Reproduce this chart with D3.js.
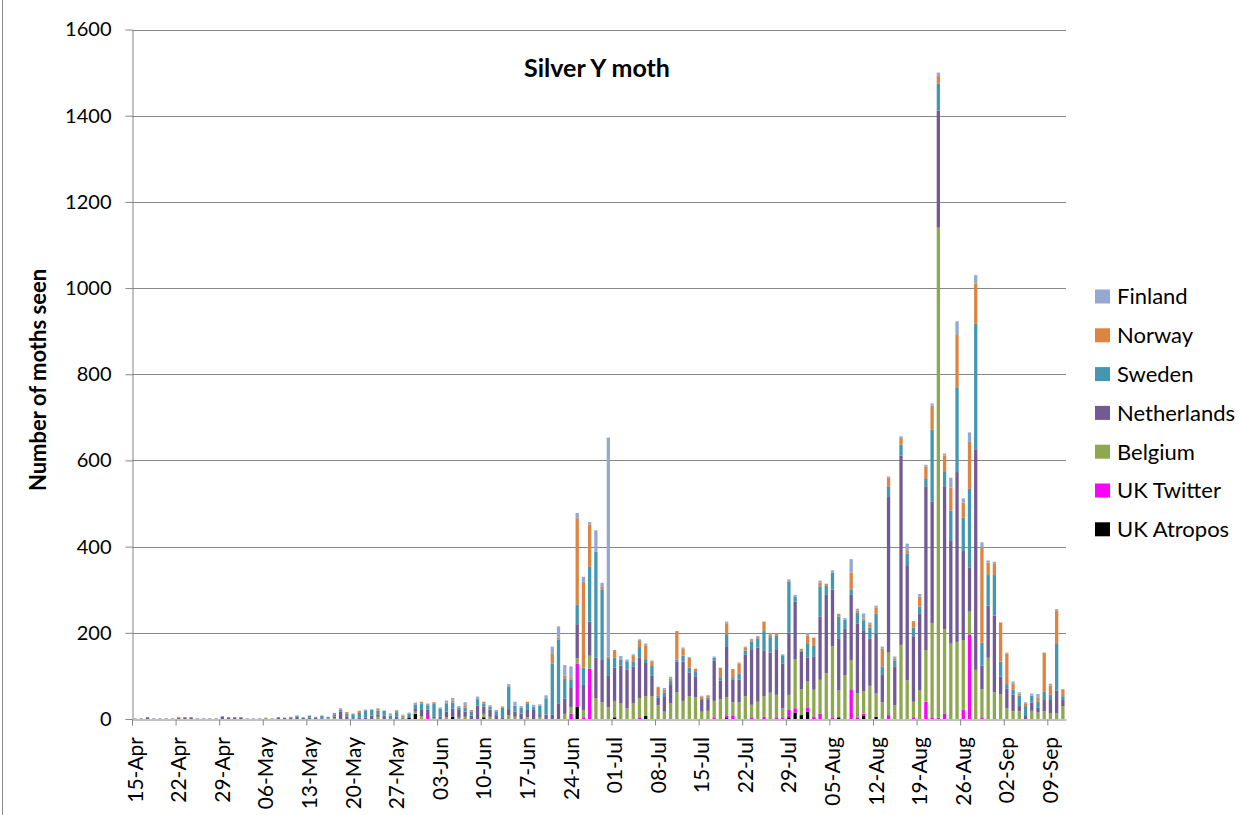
<!DOCTYPE html>
<html>
<head>
    <meta charset="utf-8">
    <title>Silver Y moth</title>
    <script src="https://d3js.org/d3.v7.min.js"></script>
    <style>
        body {
            margin: 0;
            background: #fff;
            font-family: Lato, "Liberation Sans", sans-serif;
        }
        .grid line { stroke: #868686; stroke-width: 1px; }
        .axis path, .axis line { stroke: #868686; }
        .axis text { fill: #000; font-family: Lato, "Liberation Sans", sans-serif; }
    </style>
</head>
<body>
    <svg width="1239" height="815"></svg>

    <script>
    // series, bottom of the stack first
    const seriesNames = ["UK Atropos", "UK Twitter", "Belgium", "Netherlands", "Sweden", "Norway", "Finland"];
    const seriesColors = ["#000000", "#ff00ff", "#8da84f", "#725a96", "#4397b0", "#dc8440", "#95a8d2"];

    const tickLabels = ["15-Apr", "22-Apr", "29-Apr", "06-May", "13-May", "20-May", "27-May", "03-Jun",
        "10-Jun", "17-Jun", "24-Jun", "01-Jul", "08-Jul", "15-Jul", "22-Jul", "29-Jul", "05-Aug",
        "12-Aug", "19-Aug", "26-Aug", "02-Sep", "09-Sep"];

    // one value per day, 15-Apr .. 11-Sep
    const ukAtropos = [
        0,0,0,0,0,0,0,0,0,0, 0,0,0,0,0,0,0,0,0,0, 0,0,0,0,0,0,0,0,0,0, 0,0,0,0,0,0,0,0,0,0,
        0,0,0,0,3,12,0,0,0,0, 0,5,0,0,0,0,4,0,0,0, 0,0,0,0,0,0,0,0,0,0, 0,29,0,0,0,0,0,4,0,0,
        0,0,7,0,0,0,0,0,0,0, 0,0,0,0,0,2,0,0,0,0, 0,0,0,0,0,4,15,9,17,0, 0,0,0,4,0,0,0,7,0,5,
        0,0,0,0,0,0,0,0,0,0, 0,0,0,0,0,0,0,0,0,0, 0,0,0,0,0,0,0,0,0,0];
    const ukTwitter = [
        0,0,0,0,0,0,0,0,0,0, 0,0,0,0,0,0,0,0,0,0, 0,0,0,0,0,0,0,0,0,0, 0,0,0,0,0,0,0,0,0,0,
        0,0,0,0,0,0,0,7,0,0, 0,0,0,0,0,0,0,0,0,0, 0,0,0,0,0,0,0,0,0,0, 12,99,4,117,0,0,0,0,0,0,
        0,4,0,0,0,0,0,0,0,0, 0,0,0,4,0,5,7,0,0,4, 0,5,0,4,4,17,10,0,10,5, 12,0,4,0,0,69,4,5,0,0,
        0,9,0,0,0,4,0,40,4,3, 12,0,0,21,195,0,4,0,0,0, 0,0,0,0,0,0,0,0,0,0];
    const belgium = [
        0,0,0,0,0,0,0,0,0,0, 0,0,0,0,0,0,0,0,0,0, 0,3,0,0,0,0,0,0,0,0, 0,0,2,0,0,0,0,0,0,5,
        0,0,0,0,0,5,7,0,2,0, 4,0,3,5,0,0,8,5,0,0, 9,5,0,4,0,5,0,0,0,12, 15,13,17,30,48,39,27,38,36,25,
        36,44,46,53,32,17,36,62,42,53, 50,17,19,38,46,43,32,39,53,29, 40,48,61,52,21,35,114,60,60,63,
        79,106,165,62,102,68,56,53,77,54, 39,145,32,172,90,36,66,120,219,1137,
        196,175,179,162,54,114,65,142,62,57, 25,18,18,0,19,15,18,13,13,30];
    const netherlands = [
        1,1,4,1,1,1,1,3,4,4, 1,1,1,1,6,4,4,4,1,1, 1,0,1,4,3,4,6,3,3,4, 2,1,4,17,6,0,3,3,8,6,
        8,0,6,0,4,8,14,15,3,5, 13,19,18,12,8,31,17,17,9,4, 14,12,13,17,21,4,10,10,35,35,
        45,79,58,79,95,98,73,77,88,90, 86,94,77,47,18,36,43,71,91,55, 49,29,27,93,43,119,52,52,97,129,
        126,105,93,106,104,144,133,87,56,76, 147,182,131,120,107,151,162,141,110,139,
        65,361,89,439,267,152,178,380,281,272, 332,238,394,207,103,512,55,121,178,41,
        46,39,12,7,19,11,26,31,53,14];
    const sweden = [
        0,0,0,0,0,0,0,0,0,0, 0,0,0,0,0,0,0,0,0,0, 0,0,0,0,0,0,2,1,5,0, 6,4,5,4,6,11,11,17,14,8,
        11,8,10,4,6,9,15,10,30,19, 18,14,6,10,9,15,6,7,9,22, 52,14,13,14,8,22,38,119,149,46,
        20,45,40,127,245,164,41,24,14,19, 12,25,9,23,5,9,9,5,14,11, 12,0,4,7,8,28,6,15,9,18,
        21,46,36,31,19,118,12,3,33,27, 70,22,39,52,21,13,25,23,25,46, 18,25,15,26,27,20,17,17,168,63,
        35,71,197,77,182,291,53,71,94,35, 10,12,24,23,16,15,19,12,110,9];
    const norway = [
        0,0,0,0,0,0,0,2,0,0, 0,0,0,0,0,0,0,0,0,0, 0,0,0,0,0,0,0,0,0,0, 0,0,3,0,4,0,5,0,0,4,
        0,0,3,4,0,0,4,0,4,0, 3,5,0,5,4,0,5,0,0,3, 2,0,0,5,0,0,0,22,5,7, 5,201,199,98,0,7,4,17,3,0,
        12,14,32,11,17,6,5,66,16,23, 6,6,4,0,22,25,19,23,6,3, 4,22,5,5,0,0,0,4,17,18,
        8,4,0,6,0,39,5,4,8,14, 41,20,5,15,6,15,23,29,55,17, 36,53,121,35,109,93,221,29,27,91,
        71,14,5,5,0,8,91,22,75,16];
    const finland = [
        0,1,0,1,1,1,1,0,0,0, 1,1,1,1,0,0,0,0,0,0, 1,0,1,0,0,1,0,0,0,1, 0,0,0,4,0,2,0,2,0,2,
        1,5,2,2,2,4,0,4,0,3, 5,6,3,7,0,6,0,3,3,0, 4,9,4,0,4,3,7,17,26,25, 25,12,12,6,50,8,508,0,5,4,
        4,4,4,2,3,4,5,0,3,2, 0,2,2,3,0,4,0,2,3,3, 2,0,3,0,2,6,4,0,6,0, 5,0,6,0,4,31,4,12,4,5,
        5,3,4,4,17,0,6,4,5,8, 5,23,32,10,22,20,12,5,4,0, 2,4,3,4,5,9,0,4,4,0];

    const seriesValues = [ukAtropos, ukTwitter, belgium, netherlands, sweden, norway, finland];

    // day labels for the category axis
    const fmt = d3.timeFormat("%d-%b");
    const days = d3.timeDay.range(new Date(2013, 3, 15), new Date(2013, 8, 12)).map(fmt);

    const rows = days.map((day, i) => {
        let r = { day: day };
        seriesNames.forEach((s, k) => r[s] = seriesValues[k][i]);
        return r;
    });

    let svg = d3.select("svg");
    const plotLeft = 132, plotRight = 1066, plotTop = 29.5, plotBottom = 719;

    let x = d3.scaleBand()
        .domain(days)
        .range([plotLeft, plotRight])
        .paddingInner(0.47)
        .paddingOuter(0.235);

    let xi = d3.scaleLinear().domain([0, days.length]).range([plotLeft, plotRight]);

    let y = d3.scaleLinear().domain([0, 1600]).range([plotBottom, plotTop]);
    const yTicks = d3.range(0, 1601, 200);

    // left edge of the chart frame
    svg.append("line")
        .attr("x1", 2.5).attr("x2", 2.5).attr("y1", 0).attr("y2", 815)
        .attr("stroke", "#8c8c8c");

    // gridlines
    svg.append("g").attr("class", "grid")
        .selectAll("line")
        .data(yTicks.slice(1))
        .enter().append("line")
        .attr("x1", plotLeft).attr("x2", plotRight)
        .attr("y1", d => Math.round(y(d)) + 0.5)
        .attr("y2", d => Math.round(y(d)) + 0.5);

    // stacked bars
    let stack = d3.stack().keys(seriesNames)(rows);

    svg.append("g")
        .selectAll("g")
        .data(stack)
        .enter().append("g")
        .attr("fill", (d, i) => seriesColors[i])
        .selectAll("rect")
        .data(d => d)
        .enter().append("rect")
        .attr("x", d => x(d.data.day))
        .attr("width", x.bandwidth())
        .attr("y", d => y(d[1]))
        .attr("height", d => y(d[0]) - y(d[1]));

    // y axis
    svg.append("g")
        .attr("class", "axis")
        .attr("transform", `translate(${plotLeft + 0.5},0)`)
        .call(d3.axisLeft(y).tickValues(yTicks).tickFormat(d3.format("d"))
            .tickSize(7).tickSizeOuter(0).tickPadding(14))
        .selectAll("text")
        .style("font-size", "20px");

    // x axis tick marks between categories, every 7 days
    svg.append("g")
        .attr("class", "axis")
        .attr("transform", `translate(0,${plotBottom + 0.5})`)
        .call(d3.axisBottom(xi).tickValues(d3.range(0, days.length, 7)).tickSize(6).tickSizeOuter(0).tickFormat(""));

    // x axis labels
    let xl = svg.append("g")
        .attr("class", "axis")
        .attr("transform", `translate(0,${plotBottom})`)
        .call(d3.axisBottom(x).tickValues(tickLabels).tickSize(0));
    xl.select(".domain").remove();
    xl.selectAll("text")
        .style("font-size", "21px")
        .style("text-anchor", "end")
        .attr("transform", "rotate(-90)")
        .attr("x", -18)
        .attr("y", 0)
        .attr("dy", "0.36em");

    // title
    svg.append("text")
        .attr("x", 597)
        .attr("y", 77)
        .attr("text-anchor", "middle")
        .style("font-size", "25px")
        .style("font-weight", "bold")
        .text("Silver Y moth");

    // y axis title
    svg.append("text")
        .attr("transform", "translate(46,380) rotate(-90)")
        .attr("text-anchor", "middle")
        .style("font-size", "22px")
        .style("font-weight", "bold")
        .text("Number of moths seen");

    // legend, top entry is the top of the stack
    let legend = svg.append("g")
        .selectAll("g")
        .data(seriesNames.map((s, i) => ({ name: s, color: seriesColors[i] })).reverse())
        .enter().append("g")
        .attr("transform", (d, i) => `translate(1095,${296.5 + i * 38.8})`);

    legend.append("rect")
        .attr("x", 0).attr("y", -7)
        .attr("width", 15).attr("height", 14)
        .attr("fill", d => d.color);

    legend.append("text")
        .attr("x", 22)
        .attr("y", 0)
        .attr("dy", "0.36em")
        .style("font-size", "22px")
        .text(d => d.name);
    </script>
</body>
</html>
